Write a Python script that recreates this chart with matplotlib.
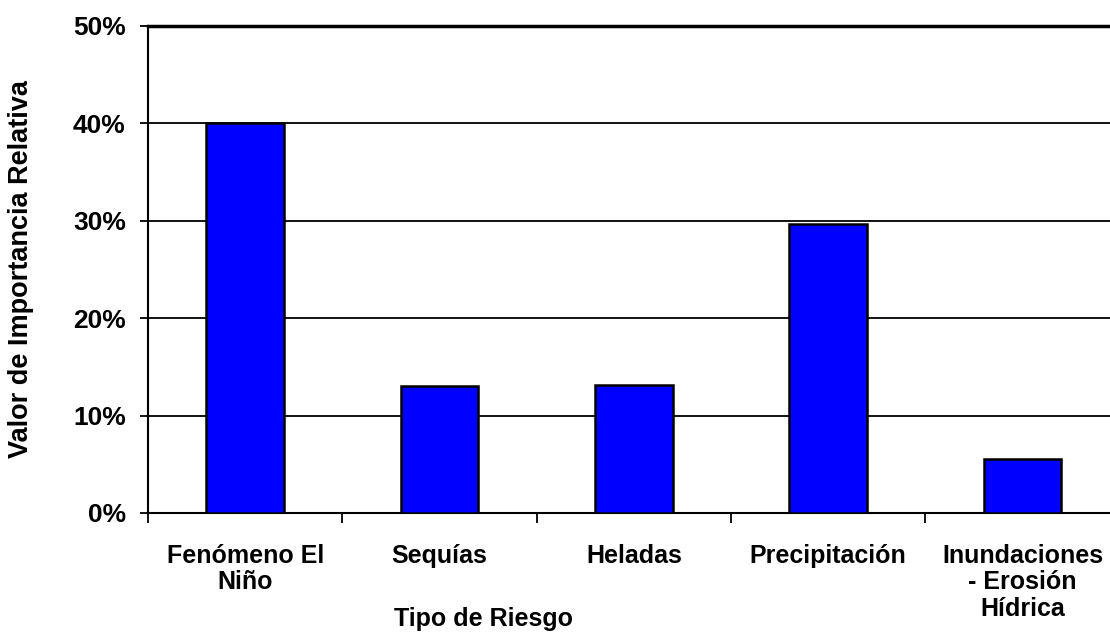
import matplotlib
matplotlib.use("Agg")
import matplotlib.pyplot as plt
from matplotlib.ticker import FuncFormatter

categories = ["Fenómeno El\nNiño", "Sequías", "Heladas", "Precipitación",
              "Inundaciones\n- Erosión\nHídrica"]
values = [0.40, 0.130, 0.131, 0.297, 0.055]

plt.rcParams['font.family'] = ['Liberation Sans', 'DejaVu Sans']
plt.rcParams['font.weight'] = 'bold'

fig = plt.figure(figsize=(11.1, 6.32), dpi=100)
ax = fig.add_axes([0.1333, 0.1883, 0.8667, 0.7706])

x = list(range(len(categories)))
ax.bar(x, values, width=0.4, color='#0000ff', edgecolor='black', linewidth=1.8, zorder=3)

ax.set_ylim(0, 0.5)
ax.set_xlim(-0.5, 4.45)
ax.set_yticks([0, 0.1, 0.2, 0.3, 0.4, 0.5])
ax.yaxis.set_major_formatter(FuncFormatter(lambda v, p: f"{v*100:.0f}%"))
ax.yaxis.grid(True, color='black', linewidth=1.3, zorder=0)
ax.tick_params(axis='y', labelsize=19, length=6, width=1.3, pad=10, direction='out')

# category boundaries as ticks, labels at centres
ax.set_xticks([-0.5, 0.5, 1.5, 2.5, 3.5])
ax.set_xticklabels([])
ax.tick_params(axis='x', which='major', length=7, width=1.3, direction='out')
ax.set_xticks(x, minor=True)
ax.set_xticklabels(categories, minor=True, fontsize=18, fontweight='bold', linespacing=1.15)
ax.tick_params(axis='x', which='minor', length=0, pad=22)

ax.spines['right'].set_visible(False)
ax.spines['top'].set_linewidth(2.5)
ax.spines['left'].set_linewidth(1.5)
ax.spines['bottom'].set_linewidth(1.5)

ax.set_ylabel("Valor de Importancia Relativa", fontsize=19.5, fontweight='bold')
ax.yaxis.set_label_coords(-0.118, 0.5)
ax.set_xlabel("Tipo de Riesgo", fontsize=18, fontweight='bold')
ax.xaxis.set_label_coords(0.349, -0.193)

fig.savefig("out.png", dpi=100)
